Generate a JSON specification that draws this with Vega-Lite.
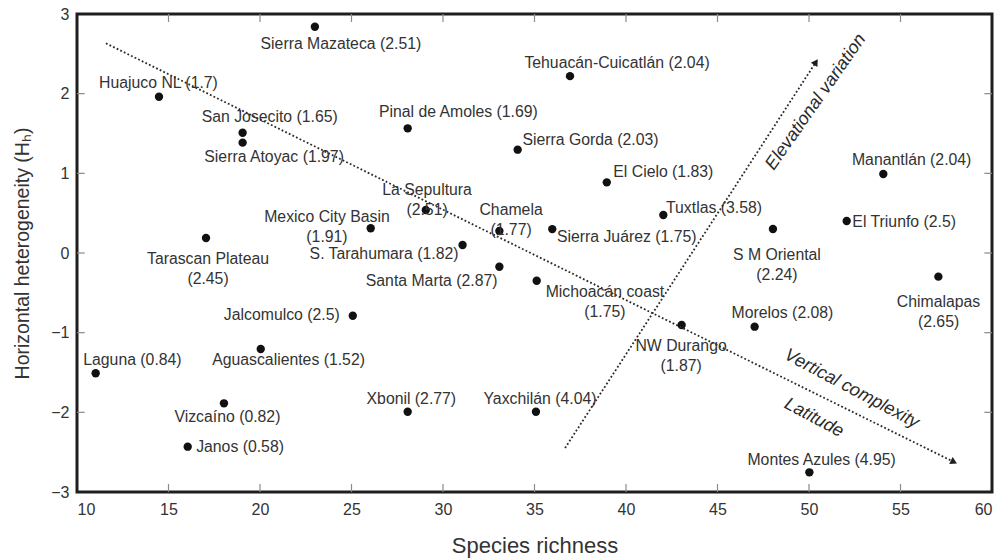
{
  "$schema": "https://vega.github.io/schema/vega-lite/v6.json",
  "width": 915,
  "height": 478,
  "autosize": "none",
  "padding": {"left": 77, "top": 14, "right": 9, "bottom": 66},
  "config": {
    "font": "Liberation Sans",
    "view": {"stroke": "#1e1e1e", "strokeWidth": 3},
    "axis": {
      "grid": false,
      "domain": false,
      "ticks": false,
      "labelFont": "Liberation Sans",
      "labelFontSize": 16,
      "labelColor": "#333333",
      "titleFont": "Liberation Sans",
      "titleFontSize": 21,
      "titleFontWeight": "normal",
      "titleColor": "#333333"
    }
  },
  "datasets": {
    "sites": [
      {"site": "Sierra Mazateca", "x": 23.0, "y": 2.84, "lx": 24.42, "ly": 2.623, "label": ["Sierra Mazateca (2.51)"]},
      {"site": "Tehuacán-Cuicatlán", "x": 36.94, "y": 2.22, "lx": 39.51, "ly": 2.389, "label": ["Tehuacán-Cuicatlán (2.04)"]},
      {"site": "Huajuco NL", "x": 14.48, "y": 1.962, "lx": 14.45, "ly": 2.134, "label": ["Huajuco NL (1.7)"]},
      {"site": "San Josecito", "x": 19.05, "y": 1.51, "lx": 20.53, "ly": 1.703, "label": ["San Josecito (1.65)"]},
      {"site": "Sierra Atoyac", "x": 19.05, "y": 1.385, "lx": 20.77, "ly": 1.209, "label": ["Sierra Atoyac (1.97)"]},
      {"site": "Pinal de Amoles", "x": 28.07, "y": 1.565, "lx": 30.84, "ly": 1.774, "label": ["Pinal de Amoles (1.69)"]},
      {"site": "Sierra Gorda", "x": 34.08, "y": 1.297, "lx": 38.06, "ly": 1.418, "label": ["Sierra Gorda (2.03)"]},
      {"site": "El Cielo", "x": 38.95, "y": 0.887, "lx": 42.04, "ly": 1.02, "label": ["El Cielo (1.83)"]},
      {"site": "La Sepultura", "x": 29.06, "y": 0.54, "lx": 29.13, "ly": 0.791, "label": ["La Sepultura", "(2.51)"]},
      {"site": "Mexico City Basin", "x": 26.05, "y": 0.31, "lx": 23.66, "ly": 0.452, "label": ["Mexico City Basin", "(1.91)"]},
      {"site": "Chamela", "x": 33.08, "y": 0.276, "lx": 33.72, "ly": 0.54, "label": ["Chamela", "(1.77)"]},
      {"site": "Sierra Juárez", "x": 35.97, "y": 0.3, "lx": 40.04, "ly": 0.205, "label": ["Sierra Juárez (1.75)"]},
      {"site": "S. Tarahumara", "x": 31.07, "y": 0.1, "lx": 26.78, "ly": -0.01, "label": ["S. Tarahumara (1.82)"]},
      {"site": "Santa Marta", "x": 33.08, "y": -0.172, "lx": 29.38, "ly": -0.348, "label": ["Santa Marta (2.87)"]},
      {"site": "Michoacán coast", "x": 35.12, "y": -0.348, "lx": 38.85, "ly": -0.486, "label": ["Michoacán coast", "(1.75)"]},
      {"site": "Tuxtlas", "x": 42.04, "y": 0.477, "lx": 44.81, "ly": 0.561, "label": ["Tuxtlas (3.58)"]},
      {"site": "S M Oriental", "x": 48.03, "y": 0.301, "lx": 48.25, "ly": -0.025, "label": ["S M Oriental", "(2.24)"]},
      {"site": "El Triunfo", "x": 52.06, "y": 0.402, "lx": 55.2, "ly": 0.393, "label": ["El Triunfo (2.5)"]},
      {"site": "Manantlán", "x": 54.06, "y": 0.992, "lx": 55.61, "ly": 1.167, "label": ["Manantlán (2.04)"]},
      {"site": "Chimalapas", "x": 57.07, "y": -0.297, "lx": 57.08, "ly": -0.621, "label": ["Chimalapas", "(2.65)"]},
      {"site": "Morelos", "x": 47.03, "y": -0.925, "lx": 48.55, "ly": -0.749, "label": ["Morelos (2.08)"]},
      {"site": "NW Durango", "x": 43.04, "y": -0.904, "lx": 43.01, "ly": -1.167, "label": ["NW Durango", "(1.87)"]},
      {"site": "Montes Azules", "x": 50.02, "y": -2.753, "lx": 50.69, "ly": -2.598, "label": ["Montes Azules (4.95)"]},
      {"site": "Jalcomulco", "x": 25.07, "y": -0.787, "lx": 21.19, "ly": -0.778, "label": ["Jalcomulco (2.5)"]},
      {"site": "Aguascalientes", "x": 20.04, "y": -1.205, "lx": 21.56, "ly": -1.343, "label": ["Aguascalientes (1.52)"]},
      {"site": "Laguna", "x": 11.02, "y": -1.51, "lx": 13.03, "ly": -1.343, "label": ["Laguna (0.84)"]},
      {"site": "Vizcaíno", "x": 18.03, "y": -1.887, "lx": 18.22, "ly": -2.055, "label": ["Vizcaíno (0.82)"]},
      {"site": "Janos", "x": 16.05, "y": -2.431, "lx": 18.91, "ly": -2.431, "label": ["Janos (0.58)"]},
      {"site": "Xbonil", "x": 28.07, "y": -1.992, "lx": 28.27, "ly": -1.837, "label": ["Xbonil (2.77)"]},
      {"site": "Yaxchilán", "x": 35.08, "y": -1.992, "lx": 35.3, "ly": -1.837, "label": ["Yaxchilán (4.04)"]},
      {"site": "Tarascan Plateau", "x": 17.05, "y": 0.188, "lx": 17.16, "ly": -0.075, "label": ["Tarascan Plateau", "(2.45)"]}
    ],
    "arrows": [
      {"arrow": "latitude", "step": 0, "x": 11.58, "y": 2.632},
      {"arrow": "latitude", "step": 1, "x": 57.92, "y": -2.623},
      {"arrow": "elevation", "step": 0, "x": 36.67, "y": -2.448},
      {"arrow": "elevation", "step": 1, "x": 50.38, "y": 2.397}
    ],
    "xticks": [{"v": 15}, {"v": 20}, {"v": 25}, {"v": 30}, {"v": 35}, {"v": 40}, {"v": 45}, {"v": 50}, {"v": 55}],
    "yticks": [{"v": -2}, {"v": -1}, {"v": 0}, {"v": 1}, {"v": 2}]
  },
  "layer": [
    {
      "data": {"name": "sites"},
      "mark": {"type": "point", "filled": true, "color": "#111111", "size": 70, "opacity": 1},
      "encoding": {
        "x": {"field": "x", "type": "quantitative", "title": "Species richness",
              "scale": {"domain": [10, 60], "nice": false, "zero": false},
              "axis": {"orient": "bottom", "values": [10, 15, 20, 25, 30, 35, 40, 45, 50, 55, 60],
                       "labelPadding": 9, "titleFontSize": 22, "titlePadding": 18}},
        "y": {"field": "y", "type": "quantitative", "title": "Horizontal heterogeneity (Hₕ)",
              "scale": {"domain": [-3, 3], "nice": false, "zero": false},
              "axis": {"orient": "left", "values": [-3, -2, -1, 0, 1, 2, 3],
                       "labelPadding": 8, "titleFontSize": 19.5, "titleX": -55, "titleBaseline": "middle"}}
      }
    },
    {
      "data": {"name": "xticks"},
      "mark": {"type": "rule", "color": "#8a8a8a", "strokeWidth": 1.2},
      "encoding": {
        "x": {"field": "v", "type": "quantitative", "axis": null},
        "y": {"datum": -3, "type": "quantitative", "axis": null},
        "y2": {"datum": -2.9}
      }
    },
    {
      "data": {"name": "xticks"},
      "mark": {"type": "rule", "color": "#8a8a8a", "strokeWidth": 1.2},
      "encoding": {
        "x": {"field": "v", "type": "quantitative", "axis": null},
        "y": {"datum": 3, "type": "quantitative", "axis": null},
        "y2": {"datum": 2.9}
      }
    },
    {
      "data": {"name": "yticks"},
      "mark": {"type": "rule", "color": "#8a8a8a", "strokeWidth": 1.2},
      "encoding": {
        "y": {"field": "v", "type": "quantitative", "axis": null},
        "x": {"datum": 10, "type": "quantitative", "axis": null},
        "x2": {"datum": 10.42}
      }
    },
    {
      "data": {"name": "yticks"},
      "mark": {"type": "rule", "color": "#8a8a8a", "strokeWidth": 1.2},
      "encoding": {
        "y": {"field": "v", "type": "quantitative", "axis": null},
        "x": {"datum": 60, "type": "quantitative", "axis": null},
        "x2": {"datum": 59.58}
      }
    },
    {
      "data": {"name": "arrows"},
      "mark": {"type": "line", "color": "#2a2a2a", "strokeWidth": 1.8, "strokeDash": [1.8, 2.2]},
      "encoding": {
        "x": {"field": "x", "type": "quantitative", "axis": null},
        "y": {"field": "y", "type": "quantitative", "axis": null},
        "detail": {"field": "arrow"},
        "order": {"field": "step"}
      }
    },
    {
      "data": {"name": "arrows"},
      "transform": [{"filter": "datum.arrow === 'latitude' && datum.step === 1"}],
      "mark": {"type": "point", "shape": "triangle-up", "filled": true, "color": "#1e1e1e", "size": 60, "angle": 116, "opacity": 1},
      "encoding": {
        "x": {"field": "x", "type": "quantitative", "axis": null},
        "y": {"field": "y", "type": "quantitative", "axis": null}
      }
    },
    {
      "data": {"name": "arrows"},
      "transform": [{"filter": "datum.arrow === 'elevation' && datum.step === 1"}],
      "mark": {"type": "point", "shape": "triangle-up", "filled": true, "color": "#1e1e1e", "size": 60, "angle": 33, "opacity": 1},
      "encoding": {
        "x": {"field": "x", "type": "quantitative", "axis": null},
        "y": {"field": "y", "type": "quantitative", "axis": null}
      }
    },
    {
      "data": {"name": "sites"},
      "mark": {"type": "text", "align": "center", "baseline": "middle", "fontSize": 15.8, "lineHeight": 20, "color": "#333333"},
      "encoding": {
        "x": {"field": "lx", "type": "quantitative", "axis": null},
        "y": {"field": "ly", "type": "quantitative", "axis": null},
        "text": {"field": "label"}
      }
    },
    {
      "data": {"values": [{"note": "Elevational variation", "x": 50.38, "y": 1.895}]},
      "mark": {"type": "text", "align": "center", "baseline": "middle", "fontSize": 18, "fontStyle": "italic", "angle": -55, "color": "#2a2a2a"},
      "encoding": {
        "x": {"field": "x", "type": "quantitative", "axis": null},
        "y": {"field": "y", "type": "quantitative", "axis": null},
        "text": {"field": "note"}
      }
    },
    {
      "data": {"values": [{"note": "Vertical complexity", "x": 52.33, "y": -1.707}, {"note": "Latitude", "x": 50.27, "y": -2.071}]},
      "mark": {"type": "text", "align": "center", "baseline": "middle", "fontSize": 18, "fontStyle": "italic", "angle": 28, "color": "#2a2a2a"},
      "encoding": {
        "x": {"field": "x", "type": "quantitative", "axis": null},
        "y": {"field": "y", "type": "quantitative", "axis": null},
        "text": {"field": "note"}
      }
    }
  ],
  "resolve": {"axis": {"x": "independent", "y": "independent"}}
}
